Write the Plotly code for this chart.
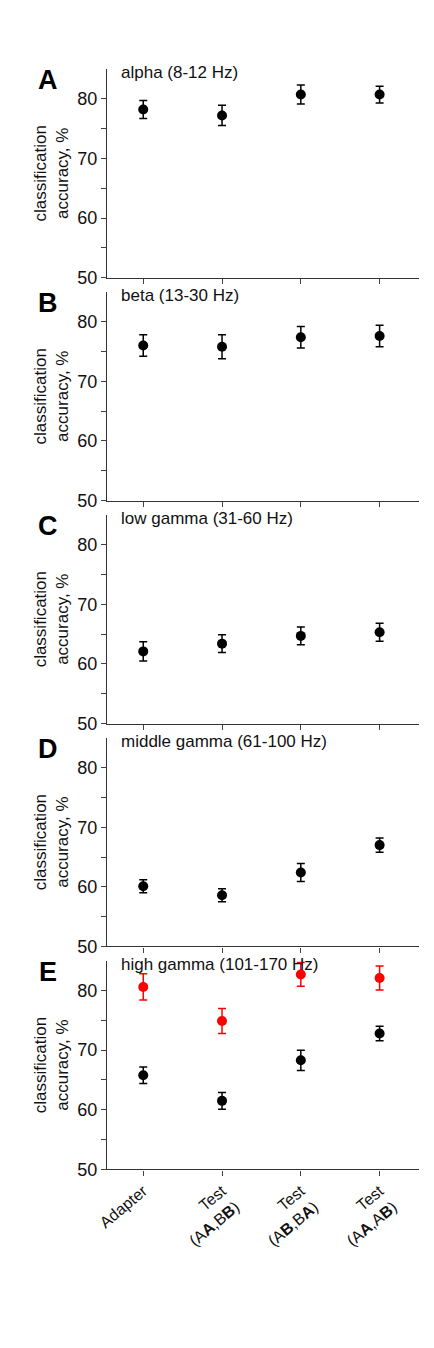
import plotly.graph_objects as go

categories = ["Adapter", "Test<br>(A<b>A</b>,B<b>B</b>)", "Test<br>(A<b>B</b>,B<b>A</b>)", "Test<br>(A<b>A</b>,A<b>B</b>)"]
letters = ["A", "B", "C", "D", "E"]
bands = ["alpha (8-12 Hz)", "beta (13-30 Hz)", "low gamma (31-60 Hz)",
         "middle gamma (61-100 Hz)", "high gamma (101-170 Hz)"]

acc = [
    [78.2, 77.2, 80.7, 80.7],
    [76.0, 75.8, 77.4, 77.6],
    [62.1, 63.4, 64.7, 65.3],
    [60.1, 58.6, 62.4, 67.0],
    [65.8, 61.5, 68.3, 72.8],
]
err = [
    [1.5, 1.7, 1.6, 1.4],
    [1.8, 2.0, 1.8, 1.8],
    [1.6, 1.5, 1.5, 1.5],
    [1.1, 1.1, 1.5, 1.2],
    [1.4, 1.4, 1.7, 1.2],
]
acc_red = [80.6, 74.9, 82.7, 82.1]
err_red = [2.2, 2.1, 2.0, 2.0]

H = 1348
top_px, bot_px = 32, 1250
panel_px = 231
step = (bot_px - top_px - panel_px) / 4

fig = go.Figure()
fam = "Liberation Sans, Arial"
font = dict(family=fam, size=17, color="#111")

for i in range(5):
    ax = "" if i == 0 else str(i + 1)
    y0 = top_px + i * step + panel_px
    d0 = (H - y0) / H
    d1 = (H - y0 + panel_px) / H
    fig.add_trace(go.Scatter(
        x=[0, 1, 2, 3], y=acc[i], mode="markers",
        marker=dict(color="black", size=10),
        error_y=dict(type="data", array=err[i], color="black", thickness=1.5, width=4),
        xaxis="x" + ax, yaxis="y" + ax, showlegend=False))
    if i == 4:
        fig.add_trace(go.Scatter(
            x=[0, 1, 2, 3], y=acc_red, mode="markers",
            marker=dict(color="red", size=10),
            error_y=dict(type="data", array=err_red, color="red", thickness=1.5, width=4),
            xaxis="x" + ax, yaxis="y" + ax, showlegend=False))
    fig.layout["xaxis" + ax] = dict(
        domain=[0, 1], anchor="y" + ax, range=[-0.46, 3.5], automargin=False,
        tickvals=[0, 1, 2, 3], ticktext=categories if i == 4 else [""] * 4,
        showticklabels=(i == 4), tickangle=-40, ticks="outside", ticklen=5,
        showline=True, linecolor="#333", linewidth=1.2, showgrid=False, zeroline=False,
        tickfont=dict(family=fam, size=16, color="#111"))
    fig.layout["yaxis" + ax] = dict(
        domain=[d0, d1], anchor="x" + ax, range=[50, 85], automargin=False,
        tickvals=[50, 55, 60, 65, 70, 75, 80], ticktext=["50", "", "60", "", "70", "", "80"],
        ticks="outside", ticklen=5, showline=True, linecolor="#333", linewidth=1.2,
        showgrid=False, zeroline=False, tickfont=dict(family=fam, size=18, color="#111"),
        title=dict(text="classification<br>accuracy, %", font=font, standoff=4))
    fig.add_annotation(text="<b>" + letters[i] + "</b>", xref="paper", yref="paper",
                       x=-0.19, y=d1 + 6 / H, xanchor="center", yanchor="top", showarrow=False,
                       font=dict(family=fam, size=27, color="black"))
    fig.add_annotation(text=bands[i], xref="paper", yref="paper",
                       x=0.04, y=d1 + 9 / H, xanchor="left", yanchor="top", showarrow=False,
                       font=font)

fig.update_layout(width=434, height=H, plot_bgcolor="white", paper_bgcolor="white",
                  margin=dict(l=99, r=23, t=top_px, b=H - bot_px))
fig.write_html("out.html")
